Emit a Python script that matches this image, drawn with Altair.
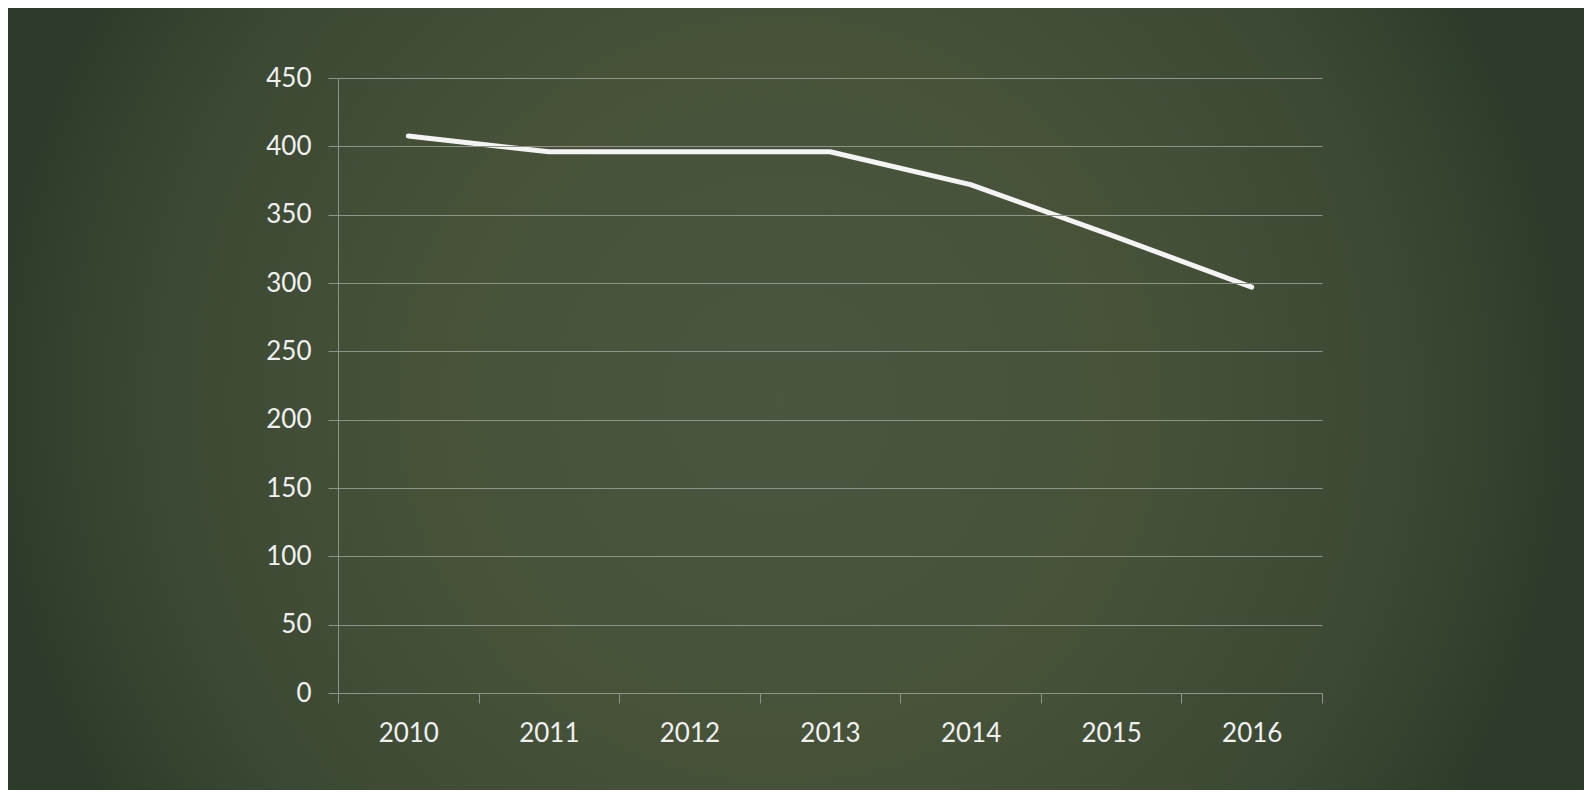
import altair as alt
import pandas as pd

years = ["2010", "2011", "2012", "2013", "2014", "2015", "2016"]
values = [407.5, 396, 396, 396, 372, 335, 297]
y_ticks = [0, 50, 100, 150, 200, 250, 300, 350, 400, 450]

df = pd.DataFrame({"year": years, "value": values})

PAD_L, PAD_T, PAD_R, PAD_B = 330, 70, 262, 97
W, H = 984, 615

grid_col = "#8e9488"
text_col = "#f0f0f0"
font = "Lato"

bg = alt.Chart(pd.DataFrame({"k": [0]})).mark_rect(
    fill=alt.Gradient(
        gradient="radial",
        x1=0.49, y1=0.5, r1=0,
        x2=0.49, y2=0.5, r2=0.5,
        stops=[
            alt.GradientStop(color="#4b5641", offset=0),
            alt.GradientStop(color="#475239", offset=0.45),
            alt.GradientStop(color="#3b4833", offset=0.8),
            alt.GradientStop(color="#2d3c2a", offset=1),
        ],
    ),
    strokeWidth=0,
).encode(
    x=alt.value(-PAD_L), x2=alt.value(W + PAD_R),
    y=alt.value(-PAD_T), y2=alt.value(H + PAD_B),
)

line = alt.Chart(df).mark_line(
    color="#f4f4f4", strokeWidth=5, strokeCap="round", strokeJoin="round"
).encode(
    x=alt.X(
        "year:O",
        sort=years,
        scale=alt.Scale(type="band", paddingInner=0, paddingOuter=0),
        axis=alt.Axis(
            title=None, labelAngle=0, tickBand="extent", grid=False,
            domain=True, domainColor=grid_col, domainWidth=1,
            ticks=True, tickColor=grid_col, tickSize=10, tickWidth=1,
            labelColor=text_col, labelFont=font, labelFontSize=26,
            labelPadding=17, zindex=1,
        ),
    ),
    y=alt.Y(
        "value:Q",
        scale=alt.Scale(domain=[0, 450], nice=False, zero=True),
        axis=alt.Axis(
            title=None, values=y_ticks, grid=True, gridColor=grid_col,
            gridWidth=1, domain=True, domainColor=grid_col, domainWidth=1,
            ticks=True, tickColor=grid_col, tickSize=10, tickWidth=1,
            labelColor=text_col, labelFont=font, labelFontSize=26,
            labelPadding=17, zindex=1,
        ),
    ),
)

chart = alt.layer(bg, line).properties(
    width=W, height=H,
    padding={"left": PAD_L, "top": PAD_T, "right": PAD_R, "bottom": PAD_B},
    autosize=alt.AutoSizeParams(type="none"),
    background="#2d3c2a",
).configure_view(stroke=None)

chart.save("out.html", embed_options={"renderer": "svg", "actions": False})
